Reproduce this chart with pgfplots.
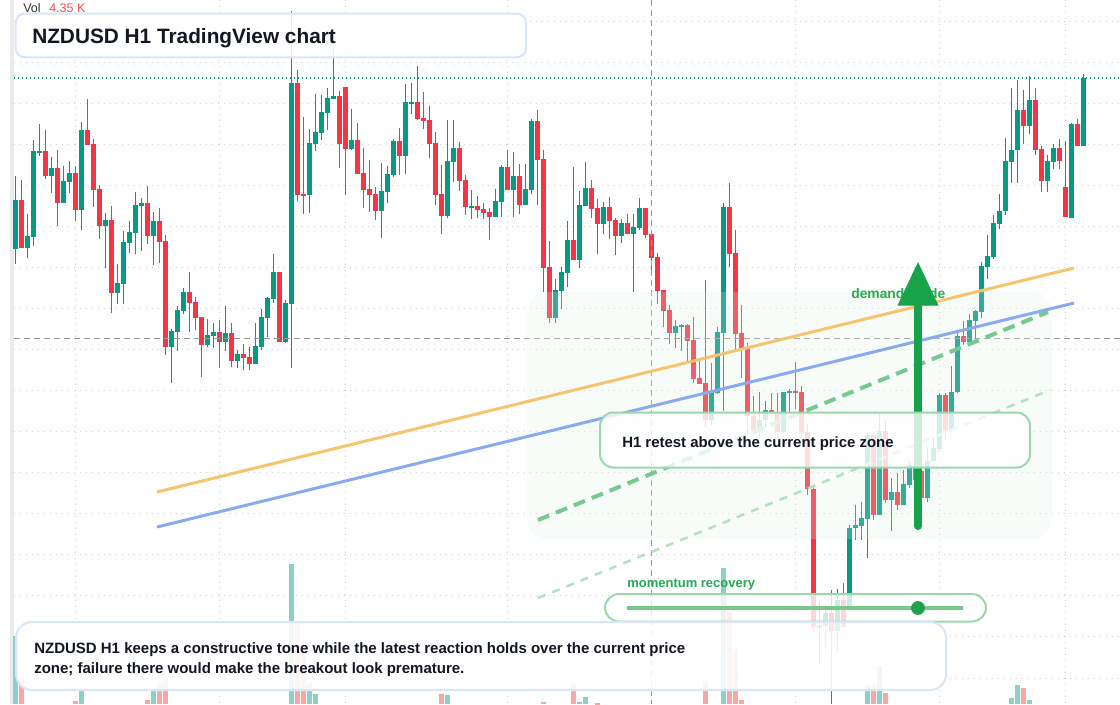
\documentclass[border=0pt]{standalone}
\usepackage{pgfplots}
\pgfplotsset{compat=1.18}
\usepackage{pgfplotstable}
\usepackage{fontspec}
\setmainfont{Liberation Sans}
\definecolor{cg}{RGB}{8,153,129}
\definecolor{cr}{RGB}{242,54,69}
\definecolor{vg}{RGB}{141,209,198}
\definecolor{vr}{RGB}{246,168,168}
\definecolor{gridc}{RGB}{208,208,208}
\definecolor{txt}{RGB}{19,23,34}
\definecolor{volt}{RGB}{50,50,50}
\definecolor{volr}{RGB}{240,80,80}
\definecolor{zoneg}{RGB}{220,243,226}
\definecolor{orangeL}{RGB}{246,196,110}
\definecolor{blueL}{RGB}{138,170,240}
\definecolor{dashG}{RGB}{120,200,145}
\definecolor{dashL}{RGB}{178,226,192}
\definecolor{boxG}{RGB}{155,215,172}
\definecolor{boxB}{RGB}{218,229,248}
\definecolor{arrowG}{RGB}{22,163,74}
\definecolor{labelG}{RGB}{40,168,84}
\definecolor{dotG}{RGB}{34,160,80}
\definecolor{lineG}{RGB}{120,200,140}
\definecolor{crossc}{RGB}{155,155,155}
\definecolor{leftbar}{RGB}{235,235,235}

% candle table: i = bar index, o h l c read in pixel rows of the picture (0 = top)
\pgfplotstableread{
i o h l c
0 249 176 264 200
1 200 180 248 248
2 248 214 258 236
3 237 140 246 151
4 152 124 156 151
5 151 130 179 176
6 176 157 193 168
7 168 150 226 203
8 203 166 203 181
9 182 161 193 173
10 173 166 221 210
11 210 122 230 130
12 130 99 145 145
13 144 139 207 190
14 189 185 239 226
15 226 213 268 220
16 220 206 313 293
17 293 264 304 283
18 284 231 304 242
19 243 221 253 232
20 233 192 254 205
21 206 198 251 203
22 203 186 244 236
23 236 212 265 221
24 221 208 263 242
25 241 235 355 347
26 347 329 383 331
27 332 306 351 310
28 311 288 314 292
29 292 272 332 303
30 302 297 330 318
31 317 317 377 345
32 345 319 347 335
33 336 323 348 332
34 332 320 368 342
35 342 306 351 333
36 333 323 367 361
37 361 350 368 354
38 354 344 370 358
39 357 347 370 364
40 364 323 364 346
41 347 309 350 317
42 318 297 337 298
43 299 254 303 272
44 272 272 342 342
45 342 300 343 303
46 304 11 368 83
47 83 70 201 195
48 194 117 214 195
49 195 129 213 143
50 144 94 151 132
51 133 95 140 112
52 113 88 130 98
53 99 48 99 96
54 96 91 168 144
55 87 87 195 149
56 149 109 150 140
57 140 123 174 174
58 173 148 208 190
59 189 160 212 195
60 194 187 220 211
61 211 163 238 191
62 192 166 203 174
63 175 139 177 141
64 141 128 175 156
65 156 84 174 102
66 103 83 114 102
67 102 66 120 119
68 118 92 129 121
69 120 106 158 144
70 143 132 205 195
71 194 165 234 216
72 216 120 218 161
73 162 120 182 148
74 148 142 191 181
75 180 175 215 207
76 207 190 219 206
77 206 196 218 210
78 209 203 219 213
79 212 208 240 217
80 217 189 217 201
81 202 165 217 167
82 167 150 190 190
83 190 152 217 176
84 176 164 214 205
85 205 164 205 189
86 190 119 194 121
87 121 110 205 160
88 159 150 292 268
89 267 241 323 318
90 318 279 323 290
91 291 267 309 272
92 273 221 287 240
93 240 167 260 260
94 260 191 268 205
95 206 162 206 188
96 188 180 218 209
97 208 199 254 224
98 224 202 234 207
99 207 197 239 221
100 220 218 255 236
101 236 219 243 223
102 223 214 234 234
103 234 214 292 227
104 228 198 230 208
105 208 208 238 235
106 234 230 273 258
107 257 253 304 291
108 290 290 327 311
109 310 305 344 333
110 333 320 348 326
111 326 324 351 325
112 325 324 363 341
113 340 317 383 379
114 378 359 384 384
115 383 280 427 420
116 420 363 425 392
117 393 327 394 332
118 333 203 411 207
119 207 183 267 254
120 253 230 352 334
121 333 305 378 349
122 348 343 433 416
123 416 396 431 430
124 430 392 437 420
125 420 401 428 410
126 410 393 413 412
127 412 393 437 432
128 432 392 433 392
129 393 389 413 391
130 391 362 409 393
131 392 386 437 433
132 432 424 495 489
133 489 487 632 627
134 628 601 664 625
135 626 605 649 613
136 613 590 704 631
137 631 589 651 600
138 600 583 627 627
139 607 525 609 528
140 528 505 540 525
141 526 502 540 518
142 519 433 558 435
143 435 433 520 515
144 515 413 515 431
145 431 421 503 500
146 500 478 531 492
147 492 473 510 505
148 505 470 505 484
149 485 462 488 465
150 466 450 490 480
151 471 465 502 498
152 498 448 502 461
153 461 437 461 448
154 449 393 452 395
155 395 393 440 430
156 430 366 432 392
157 392 331 393 336
158 336 321 345 342
159 342 314 345 320
160 321 310 341 311
161 312 262 318 266
162 267 235 279 256
163 257 215 259 223
164 224 194 229 211
165 211 138 215 161
166 162 88 183 150
167 150 80 183 110
168 110 90 144 126
169 126 76 134 100
170 100 88 155 150
171 149 146 192 181
172 181 155 192 161
173 162 144 169 148
174 148 139 169 161
175 187 141 217 217
176 218 123 218 124
177 124 119 146 146
178 146 74 146 78
}\candles

% volume: i = bar index, t = top of bar (pixel row)
\pgfplotstableread{
i t
0 636
11 691
23 690
46 564
49 683
50 694
72 695
94 702
95 697
118 568
142 685
144 666
166 698
167 685
169 700
}\volup
\pgfplotstableread{
i t
1 678
10 701
22 700
24 683
25 678
47 623
48 641
71 694
88 702
93 683
97 703
115 681
119 612
120 649
121 700
143 684
145 693
168 688
}\voldn

\pgfplotsset{
  errline/.style 2 args={only marks,mark=*,mark size=0pt,mark options={draw opacity=0,fill opacity=0},forget plot,
    error bars/.cd,y dir=both,y explicit,error mark=none,error bar style={line width=#1,draw=#2}},
}

\begin{document}
\begin{tikzpicture}
\begin{axis}[at={(0,0)},anchor=south west,width=840pt,height=528pt,scale only axis,
  xmin=0,xmax=1120,ymin=0,ymax=704,y dir=reverse,hide axis,clip=true]

% left strip
\fill[leftbar] (axis cs:10,0) rectangle (axis cs:14,704);
% grid
\pgfplotsinvokeforeach{21.2,62.25,103.3,144.35,185.4,226.45,267.5,308.55,349.6,390.65,431.7,472.75,513.8,554.85,595.9,636.95,678}{
  \draw[gridc,line width=0.75pt,dash pattern=on 1.1pt off 3.4pt] (axis cs:14,#1) -- (axis cs:1120,#1);}
\pgfplotsinvokeforeach{75.7,219.7,345.7,507.7,795.7,939.7,1065.7}{
  \draw[gridc,line width=0.75pt,dash pattern=on 1.1pt off 3.4pt] (axis cs:#1,0) -- (axis cs:#1,704);}

% volume bars
\addplot[errline={3.75pt}{vg}]
  table[x expr=15.7+6*\thisrow{i},y expr=(704+\thisrow{t})/2,y error expr=(704-\thisrow{t})/2]{\volup};
\addplot[errline={3.75pt}{vr}]
  table[x expr=15.7+6*\thisrow{i},y expr=(704+\thisrow{t})/2,y error expr=(704-\thisrow{t})/2]{\voldn};

% wicks
\addplot[restrict expr to domain={\thisrow{o}-\thisrow{c}}{0.5:1000},errline={0.75pt}{cg}]
  table[x expr=15.7+6*\thisrow{i},y expr=(\thisrow{h}+\thisrow{l})/2,y error expr=(\thisrow{l}-\thisrow{h})/2]{\candles};
\addplot[restrict expr to domain={\thisrow{c}-\thisrow{o}}{0.5:1000},errline={0.75pt}{cr}]
  table[x expr=15.7+6*\thisrow{i},y expr=(\thisrow{h}+\thisrow{l})/2,y error expr=(\thisrow{l}-\thisrow{h})/2]{\candles};
% bodies
\addplot[restrict expr to domain={\thisrow{o}-\thisrow{c}}{0.5:1000},errline={3.75pt}{cg}]
  table[x expr=15.7+6*\thisrow{i},y expr=(\thisrow{o}+\thisrow{c})/2,y error expr={max(abs(\thisrow{o}-\thisrow{c}),1.3)/2}]{\candles};
\addplot[restrict expr to domain={\thisrow{c}-\thisrow{o}}{0.5:1000},errline={3.75pt}{cr}]
  table[x expr=15.7+6*\thisrow{i},y expr=(\thisrow{o}+\thisrow{c})/2,y error expr={max(abs(\thisrow{o}-\thisrow{c}),1.3)/2}]{\candles};

% crosshair and last price line
\draw[crossc,line width=0.75pt,dash pattern=on 4.5pt off 3pt] (axis cs:14,338) -- (axis cs:1120,338);
\draw[crossc,line width=0.75pt,dash pattern=on 4.5pt off 3pt] (axis cs:651,0) -- (axis cs:651,704);
\draw[cg,line width=0.9pt,dash pattern=on 1.1pt off 1.9pt] (axis cs:14,78) -- (axis cs:1120,78);

% demand zone
\fill[zoneg,opacity=0.22,rounded corners=15pt] (axis cs:527,292) rectangle (axis cs:1052,539);

% trend lines
\draw[orangeL,line width=2.25pt] (axis cs:157,492) -- (axis cs:1074,268);
\draw[blueL,line width=2.25pt] (axis cs:157,527) -- (axis cs:1074,303);
\draw[dashG,line width=3pt,dash pattern=on 9pt off 5.5pt] (axis cs:538,520) -- (axis cs:1048,312);
\draw[dashL,line width=1.9pt,dash pattern=on 6pt off 5.5pt] (axis cs:538,598) -- (axis cs:1050,390);

% demand guide label + arrow
\node[anchor=base west,inner sep=0,text=labelG,font=\fontsize{10.4pt}{12pt}\selectfont\bfseries] at (axis cs:851,298) {demand guide};
\draw[arrowG,line width=6pt,line cap=round] (axis cs:918,526) -- (axis cs:918,300);
\fill[arrowG] (axis cs:897.5,305.5) -- (axis cs:938.5,305.5) -- (axis cs:918,262) -- cycle;

% retest box
\draw[boxG,line width=1.5pt,fill=white,fill opacity=0.8,rounded corners=10pt] (axis cs:600,412.5) rectangle (axis cs:1030,467.5);
\node[anchor=base west,inner sep=0,text=txt,font=\fontsize{11.2pt}{13pt}\selectfont\bfseries] at (axis cs:622,447) {H1 retest above the current price zone};

% momentum box
\node[anchor=base west,inner sep=0,text=labelG,font=\fontsize{9.75pt}{12pt}\selectfont\bfseries] at (axis cs:627,587) {momentum recovery};
\draw[boxG,line width=1.5pt,fill=white,fill opacity=0.8,rounded corners=10.5pt] (axis cs:605,594) rectangle (axis cs:986,621.5);
\draw[lineG,line width=2.5pt] (axis cs:627,608) -- (axis cs:963,608);
\fill[dotG] (axis cs:918,608) circle[radius=5.2pt];

% bottom box
\draw[boxB,line width=1.5pt,fill=white,fill opacity=0.88,rounded corners=12pt] (axis cs:16,622) rectangle (axis cs:946,690);
\node[anchor=base west,inner sep=0,text=txt,font=\fontsize{11.25pt}{15pt}\selectfont\bfseries] at (axis cs:34,653) {NZDUSD H1 keeps a constructive tone while the latest reaction holds over the current price};
\node[anchor=base west,inner sep=0,text=txt,font=\fontsize{11.25pt}{15pt}\selectfont\bfseries] at (axis cs:34,673.3) {zone; failure there would make the breakout look premature.};

% title box
\draw[boxB,line width=1.5pt,fill=white,fill opacity=0.88,rounded corners=7pt] (axis cs:15.7,13.5) rectangle (axis cs:526,57.3);
\node[anchor=base west,inner sep=0,text=txt,font=\fontsize{15.6pt}{18pt}\selectfont\bfseries] at (axis cs:32,43) {NZDUSD H1 TradingView chart};

% volume legend
\node[anchor=base west,inner sep=0,text=volt,font=\fontsize{9.4pt}{11pt}\selectfont] at (axis cs:23,12.5) {Vol};
\node[anchor=base west,inner sep=0,text=volr,font=\fontsize{9.4pt}{11pt}\selectfont] at (axis cs:49,12.5) {4.35 K};
\end{axis}
\pgfresetboundingbox
\path[use as bounding box] (0,0) rectangle (840pt,528pt);
\end{tikzpicture}
\end{document}
